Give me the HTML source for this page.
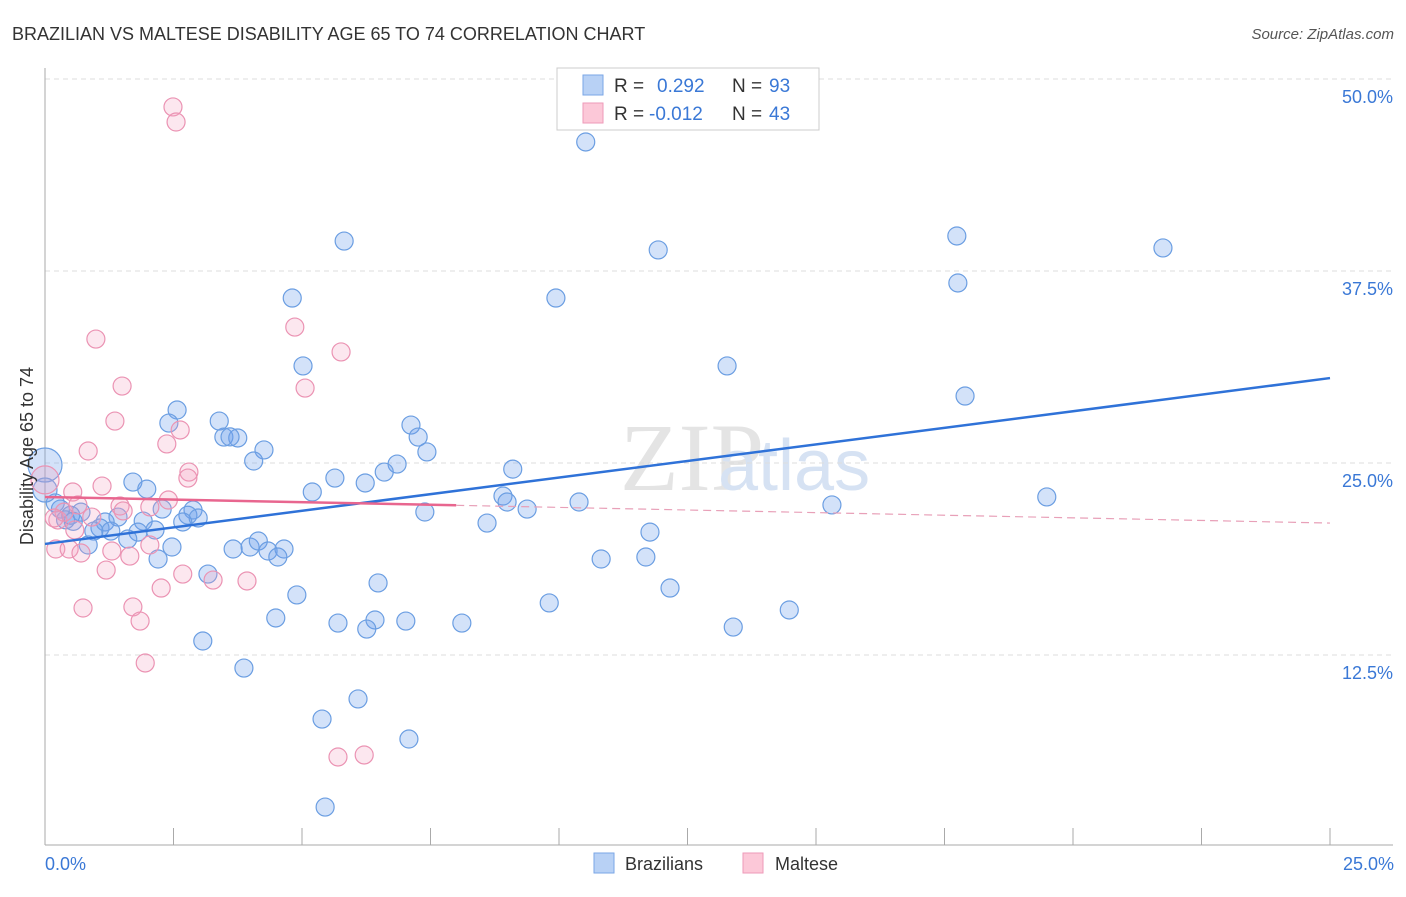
<!DOCTYPE html>
<html><head><meta charset="utf-8"><style>
body{margin:0;background:#fff;font-family:"Liberation Sans",sans-serif;}
</style></head><body>
<svg width="1406" height="892" xmlns="http://www.w3.org/2000/svg" font-family="Liberation Sans, sans-serif">
<text x="12" y="40" font-size="18" fill="#333">BRAZILIAN VS MALTESE DISABILITY AGE 65 TO 74 CORRELATION CHART</text>
<text x="1394" y="39" font-size="15" fill="#555" font-style="italic" text-anchor="end">Source: ZipAtlas.com</text>
<text x="620" y="490" font-size="96" fill="#e4e4e4" font-family="Liberation Serif, serif">ZIP</text>
<text x="718" y="490" font-size="72" fill="#d6e2f3">atlas</text>
<g id="grid"></g>
<g id="axes"></g>
<g id="marks"></g>
<text transform="translate(33,456) rotate(-90)" font-size="18" fill="#333" text-anchor="middle">Disability Age 65 to 74</text>
<text x="45" y="870" font-size="18" fill="#3a78d6">0.0%</text>
<text x="1394" y="870" font-size="18" fill="#3a78d6" text-anchor="end">25.0%</text>
<g>
<rect x="557" y="68" width="262" height="62" fill="#fff" stroke="#ccc"/>
<rect x="583" y="75" width="20" height="20" fill="#b8d1f5" stroke="#7aa6e6"/>
<rect x="583" y="103" width="20" height="20" fill="#fcc8d8" stroke="#ee9ab8"/>
<text x="614" y="92" font-size="19" fill="#333">R = </text><text x="657" y="92" font-size="19" fill="#3a78d6">0.292</text>
<text x="732" y="92" font-size="19" fill="#333">N = </text><text x="769" y="92" font-size="19" fill="#3a78d6">93</text>
<text x="614" y="120" font-size="19" fill="#333">R = </text><text x="649" y="120" font-size="19" fill="#3a78d6">-0.012</text>
<text x="732" y="120" font-size="19" fill="#333">N = </text><text x="769" y="120" font-size="19" fill="#3a78d6">43</text>
</g>
<g>
<rect x="594" y="853" width="20" height="20" fill="#b8d1f5" stroke="#7aa6e6"/>
<text x="625" y="870" font-size="18" fill="#333">Brazilians</text>
<rect x="743" y="853" width="20" height="20" fill="#fcc8d8" stroke="#ee9ab8"/>
<text x="775" y="870" font-size="18" fill="#333">Maltese</text>
</g>
</svg>
<script>
const yTicks=[12.5,25,37.5,50];
const yTickLabels=["12.5%","25.0%","37.5%","50.0%"];
const xTicks=[0,2.5,5,7.5,10,12.5,15,17.5,20,22.5,25];
const blueX=[10.52,5.82,11.93,17.74,21.75,17.76,9.94,4.81,5.02,13.27,17.9,2.57,2.41,3.39,3.48,3.75,3.6,7.12,7.26,7.43,4.26,4.06,6.85,6.6,9.1,5.64,6.23,5.2,1.71,1.98,8.91,8.99,9.38,10.39,15.31,19.49,7.39,8.6,11.77,2.28,2.88,2.78,2.98,2.68,1.91,1.42,1.17,1.07,1.28,0.95,0.3,0.5,0.7,0.2,0.4,0.55,2.14,1.81,1.61,0.84,2.47,2.2,3.66,3.99,4.15,4.34,4.65,4.53,3.17,10.82,11.69,6.48,4.9,12.16,9.81,14.48,4.49,5.7,6.42,6.26,7.02,8.11,13.39,3.07,3.87,6.09,5.39,7.08,5.45,0,0];
const blueY=[45.9,39.45,38.87,39.78,39.0,36.72,35.74,35.74,31.32,31.32,29.36,28.45,27.6,27.73,26.69,26.63,26.7,27.47,26.69,25.72,25.85,25.13,24.93,24.41,24.6,24.02,23.7,23.11,23.76,23.3,22.85,22.46,22.0,22.46,22.27,22.79,21.81,21.09,20.5,22.0,21.94,21.6,21.42,21.16,21.22,21.48,21.16,20.77,20.57,20.57,22.0,21.6,21.8,22.4,21.3,21.2,20.64,20.5,20.05,19.66,19.53,18.75,19.4,19.53,19.92,19.27,19.4,18.88,17.77,18.75,18.88,17.19,16.41,16.86,15.89,15.43,14.91,14.58,14.78,14.19,14.71,14.58,14.32,13.41,11.65,9.64,8.33,7.03,2.6,24.87,23.24];
const blueR=[9,9,9,9,9,9,9,9,9,9,9,9,9,9,9,9,9,9,9,9,9,9,9,9,9,9,9,9,9,9,9,9,9,9,9,9,9,9,9,9,9,9,9,9,9,9,9,9,9,9,9,9,9,9,9,9,9,9,9,9,9,9,9,9,9,9,9,9,9,9,9,9,9,9,9,9,9,9,9,9,9,9,9,9,9,9,9,9,9,17,12];
const pinkX=[2.49,2.55,4.86,0.99,5.76,1.5,5.06,1.36,2.63,2.37,0.84,2.8,2.78,1.11,0.54,0,2.4,1.46,2.04,1.52,0.25,0.91,0.58,2.04,0.21,0.47,0.7,1.3,1.65,1.19,2.68,3.27,3.93,2.26,0.74,1.71,1.85,1.95,5.7,6.21,0.37,0.64,0.18];
const pinkY=[48.18,47.2,33.85,33.07,32.23,30.01,29.88,27.73,27.15,26.24,25.78,24.41,24.02,23.5,23.11,23.9,22.59,22.2,22.14,21.88,21.29,21.48,20.64,19.66,19.4,19.4,19.14,19.27,18.94,18.03,17.77,17.38,17.32,16.86,15.56,15.63,14.71,11.98,5.86,5.99,21.8,22.27,21.42];
const blueTrend=[19.73,30.53];
const pinkTrend=[22.79,21.09];
const pinkSolidEnd=8;
const NS="http://www.w3.org/2000/svg";
const sx=v=>45+v/25*1285, sy=v=>847-v/50*768;
function mk(t,a,p){const e=document.createElementNS(NS,t);for(const k in a)e.setAttribute(k,a[k]);p.appendChild(e);return e;}
const grid=document.getElementById('grid'),axes=document.getElementById('axes'),marks=document.getElementById('marks');
yTicks.forEach((t,i)=>{
 const l=mk('line',{x1:45,x2:1393,y1:sy(t),y2:sy(t),stroke:'#ddd','stroke-dasharray':'5,4'},grid);
 
 
 const tx=mk('text',{x:1393,y:sy(t)+24,'font-size':18,fill:'#3a78d6','text-anchor':'end'},grid);
 tx.textContent=yTickLabels[i];
 
 
});
const ya=mk('line',{x1:45,x2:45,y1:68,y2:845,stroke:'#aaa'},axes);


const xa=mk('line',{x1:45,x2:1393,y1:845,y2:845,stroke:'#aaa'},axes);


xTicks.forEach(t=>{
 const l=mk('line',{x1:sx(t),x2:sx(t),y1:828,y2:845,stroke:'#aaa'},axes);
 
 
});
blueX.forEach((x,i)=>{
 const c=mk('circle',{cx:sx(x),cy:sy(blueY[i]),r:blueR[i],fill:'rgba(110,160,235,0.3)',stroke:'#6b9ee2','stroke-width':1.2},marks);
 
 
});
pinkX.forEach((x,i)=>{
 const c=mk('circle',{cx:sx(x),cy:sy(pinkY[i]),r:i==15?14:9,fill:'rgba(245,160,190,0.25)',stroke:'#eb93b3','stroke-width':1.2},marks);
 
 
});
const bt=mk('line',{x1:sx(0),y1:sy(blueTrend[0]),x2:sx(25),y2:sy(blueTrend[1]),stroke:'#2f72d8','stroke-width':2.5},marks);


const pm=pinkTrend[0]+(pinkTrend[1]-pinkTrend[0])*pinkSolidEnd/25;
const pt=mk('line',{x1:sx(0),y1:sy(pinkTrend[0]),x2:sx(pinkSolidEnd),y2:sy(pm),stroke:'#e8668f','stroke-width':2.5},marks);


const pd=mk('line',{x1:sx(pinkSolidEnd),y1:sy(pm),x2:sx(25),y2:sy(pinkTrend[1]),stroke:'#e8a0b8','stroke-width':1.2,'stroke-dasharray':'8,5'},marks);


</script>
</body></html>
